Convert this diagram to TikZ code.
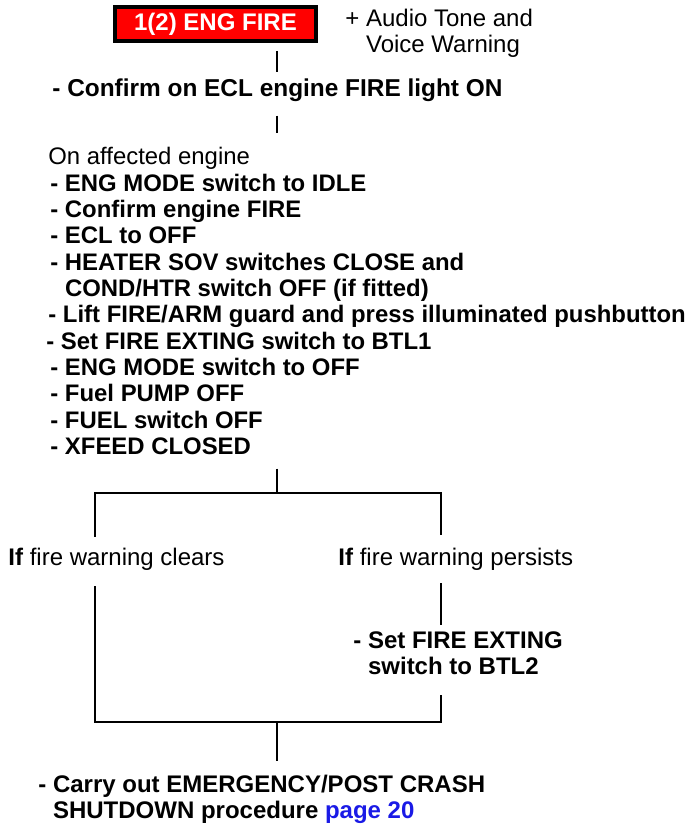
\documentclass[tikz,border=0pt]{standalone}
\usepackage{fontspec}
\setmainfont{Liberation Sans}
\usetikzlibrary{positioning}
\definecolor{AlarmRed}{HTML}{FF0000}
\definecolor{PageBlue}{HTML}{1A1AE6}
\newcommand{\bodysize}{\fontsize{12}{13.18}\selectfont}
\tikzset{
  warnbox/.style={
    draw=black, line width=2pt, fill=AlarmRed, text=white,
    font=\bodysize\bfseries, minimum width=100.5pt, minimum height=17pt,
    inner sep=0pt
  },
  note/.style={inner sep=0pt, anchor=base west, align=left, font=\bodysize},
  action/.style={note, font=\bodysize\bfseries},
  link/.style={line width=1pt}
}

\begin{document}
\begin{tikzpicture}[x=0.5pt,y=-0.5pt]
    \useasboundingbox (0,0) rectangle (689,824);
    \coordinate (spine) at (277,0);
    \coordinate (leftrail) at (95,0);
    \coordinate (rightrail) at (441,0);
    \coordinate (fork) at (277,493);
    \coordinate (join) at (277,722);

    \node[warnbox] (alarm) at (215.5,24) {1(2) ENG FIRE};
    % last line sits on the base anchor
    \node[note] (audio) at (345,52.6) {+ Audio Tone and\\\phantom{+ }Voice Warning};
    \node[action,font=\fontsize{12.2}{13.18}\selectfont\bfseries] (confirm) at (52,96.6) {- Confirm on ECL engine FIRE light ON};
    \node[action,anchor=north west,font=\fontsize{11.95}{13.18}\selectfont\bfseries] (steps) at (48,147) {%
      \mdseries On affected engine\\
      \hspace*{1pt}- ENG MODE switch to IDLE\\
      \hspace*{1pt}- Confirm engine FIRE\\
      \hspace*{1pt}- ECL to OFF\\
      \hspace*{1pt}- HEATER SOV switches CLOSE and\\
      \hspace*{1pt}\phantom{- }COND/HTR switch OFF (if fitted)\\
      - Lift FIRE/ARM guard and press illuminated pushbutton\\
      \hspace*{-1pt}- Set FIRE EXTING switch to BTL1\\
      \hspace*{1pt}- ENG MODE switch to OFF\\
      \hspace*{1pt}- Fuel PUMP OFF\\
      \hspace*{1pt}- FUEL switch OFF\\
      \hspace*{1pt}- XFEED CLOSED};
    \node[note] (clears) at (8,565.6) {\textbf{If} fire warning clears};
    \node[note] (persists) at (338,565.6) {\textbf{If} fire warning persists};
    \node[action] (btl2) at (353,674.6) {- Set FIRE EXTING\\\phantom{- }switch to BTL2};
    \node[action] (shutdown) at (38,818.6) {- Carry out EMERGENCY/POST CRASH\\
      \phantom{- }SHUTDOWN procedure \textcolor{PageBlue}{page 20}};

    \draw[link,shorten <=4pt,shorten >=3.5pt] (alarm.south -| spine) -- (confirm.north -| spine);
    \draw[link,shorten <=6.7pt,shorten >=7pt] (confirm.south -| spine) -- (steps.north -| spine);
    \draw[link,shorten <=6.7pt] (steps.south -| spine) -- (fork);
    \draw[link,shorten >=5.5pt] (fork) -| (clears.north -| leftrail);
    \draw[link,shorten >=6.5pt] (fork) -| (persists.north -| rightrail);
    \draw[link,shorten <=6.2pt,shorten >=3.2pt] (persists.south -| rightrail) -- (btl2.north -| rightrail);
    \draw[link,shorten <=7.7pt] (clears.south -| leftrail) |- (join);
    \draw[link,shorten <=10pt] (btl2.south -| rightrail) |- (join);
    \draw[link,shorten >=6.5pt] (join) -- (shutdown.north -| spine);
\end{tikzpicture}
\end{document}
